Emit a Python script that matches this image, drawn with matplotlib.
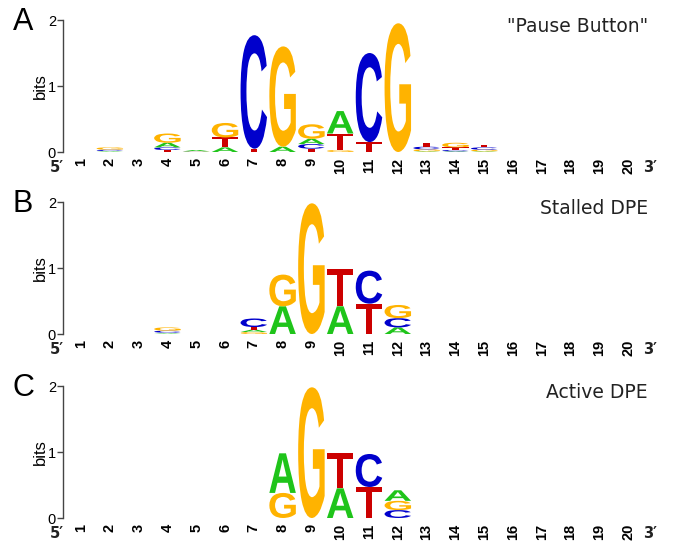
import matplotlib
matplotlib.use("Agg")
import matplotlib.pyplot as plt
from matplotlib.textpath import TextPath
from matplotlib.patches import PathPatch
from matplotlib.font_manager import FontProperties
from matplotlib.transforms import Affine2D

positions = list(range(1, 21))
tick_labels = [str(p) for p in positions]
bases = ["A", "C", "G", "T"]
base_colors = {"A": "#1fc41a", "C": "#0000cc", "G": "#ffb300", "T": "#cc0000"}

# information content (bits) per base and position
pause_A = [0, 0.01, 0, 0.07, 0.02, 0.07, 0, 0.08, 0.08, 0.34, 0, 0, 0.01, 0.01, 0.01, 0, 0, 0, 0, 0]
pause_C = [0, 0.02, 0, 0.04, 0.005, 0, 1.72, 0, 0.07, 0, 1.35, 0, 0.04, 0.02, 0.035, 0, 0, 0, 0, 0]
pause_G = [0, 0.035, 0, 0.14, 0.005, 0.22, 0, 1.52, 0.22, 0.03, 0, 1.95, 0.03, 0.07, 0.025, 0, 0, 0, 0, 0]
pause_T = [0, 0.005, 0, 0.03, 0, 0.15, 0.05, 0, 0.05, 0.25, 0.15, 0, 0.06, 0.04, 0.04, 0, 0, 0, 0, 0]

stalled_A = [0, 0, 0, 0.01, 0, 0, 0.035, 0.42, 0, 0.42, 0, 0.1, 0, 0, 0, 0, 0, 0, 0, 0]
stalled_C = [0, 0, 0, 0.03, 0, 0, 0.13, 0, 0, 0, 0.5, 0.14, 0, 0, 0, 0, 0, 0, 0, 0]
stalled_G = [0, 0, 0, 0.05, 0, 0, 0.03, 0.48, 1.98, 0, 0, 0.2, 0, 0, 0, 0, 0, 0, 0, 0]
stalled_T = [0, 0, 0, 0.01, 0, 0, 0.04, 0, 0, 0.57, 0.46, 0, 0, 0, 0, 0, 0, 0, 0, 0]

active_A = [0, 0, 0, 0, 0, 0, 0, 0.6, 0, 0.45, 0, 0.16, 0, 0, 0, 0, 0, 0, 0, 0]
active_C = [0, 0, 0, 0, 0, 0, 0, 0, 0, 0, 0.5, 0.12, 0, 0, 0, 0, 0, 0, 0, 0]
active_G = [0, 0, 0, 0, 0, 0, 0, 0.38, 1.98, 0, 0, 0.14, 0, 0, 0, 0, 0, 0, 0, 0]
active_T = [0, 0, 0, 0, 0, 0, 0, 0, 0, 0.53, 0.47, 0, 0, 0, 0, 0, 0, 0, 0, 0]

panels = [
    ("A", '"Pause Button"', {"A": pause_A, "C": pause_C, "G": pause_G, "T": pause_T}),
    ("B", "Stalled DPE", {"A": stalled_A, "C": stalled_C, "G": stalled_G, "T": stalled_T}),
    ("C", "Active DPE", {"A": active_A, "C": active_C, "G": active_G, "T": active_T}),
]

W, H = 674, 542
fig = plt.figure(figsize=(W / 100, H / 100), dpi=100)
fig.patch.set_facecolor("white")

glyph_font = FontProperties(family="Liberation Sans", weight="bold")
glyphs = {}
for b in bases:
    p = TextPath((0, 0), b, size=1, prop=glyph_font)
    glyphs[b] = (p, p.get_extents())

letter_w = 0.92


def draw_letter(ax, base, x, y0, h):
    path, ext = glyphs[base]
    t = (Affine2D()
         .translate(-ext.x0, -ext.y0)
         .scale(letter_w / ext.width, h / ext.height)
         .translate(x - letter_w / 2, y0))
    ax.add_patch(PathPatch(t.transform_path(path), facecolor=base_colors[base],
                           edgecolor="none", lw=0))


# pixel rows of the 0-bit baseline for each panel
zero_rows = [152, 334, 518]
span_px = 132
x_left, x_right = 63, 657
xlim = (0.375, 21.0)

for (tag, title, data), y0px in zip(panels, zero_rows):
    ax = fig.add_axes([x_left / W, (H - y0px) / H, (x_right - x_left) / W, span_px / H])
    ax.set_xlim(*xlim)
    ax.set_ylim(0, 2)
    ax.patch.set_alpha(0)
    for i, pos in enumerate(positions):
        col = sorted(((data[b][i], b) for b in bases), key=lambda t: t[0])
        y = 0.0
        for h, b in col:
            if h > 0:
                draw_letter(ax, b, pos, y, h)
                y += h
    for s in ("top", "right", "bottom"):
        ax.spines[s].set_visible(False)
    ax.spines["left"].set_color("#444444")
    ax.spines["left"].set_linewidth(1.0)
    ax.spines["left"].set_bounds(0, 2)
    ax.set_yticks([0, 1, 2])
    ax.set_yticklabels(["0", "1", "2"], fontsize=10.5, family="Liberation Sans")
    ax.tick_params(axis="y", length=4, width=1, color="#444444", pad=1)
    ax.set_ylabel("bits", fontsize=12, family="Liberation Sans", labelpad=0)
    ax.set_xticks(positions)
    ax.set_xticklabels(tick_labels, rotation=90, fontsize=10.5, fontweight="bold",
                       family="Liberation Sans")
    ax.tick_params(axis="x", length=0, pad=4)
    ax.text(-6 / (x_right - x_left), -15 / span_px, "5\u2032", transform=ax.transAxes,
            fontsize=10.5, fontweight="bold", family="DejaVu Sans", ha="center", va="center",
            color="#222222")
    ax.text((650 - x_left) / (x_right - x_left), -15 / span_px, "3\u2032",
            transform=ax.transAxes, fontsize=10.5, fontweight="bold", family="DejaVu Sans",
            ha="center", va="center", color="#222222")
    fig.text(23 / W, (H - (y0px - 130)) / H, tag, fontsize=22, family="Liberation Sans",
             ha="center", va="center")
    fig.text(648 / W, (H - (y0px - 125)) / H, title, fontsize=13.5, family="DejaVu Sans",
             ha="right", va="center", color="#222222")

fig.savefig("out.png", dpi=100, facecolor="white")
